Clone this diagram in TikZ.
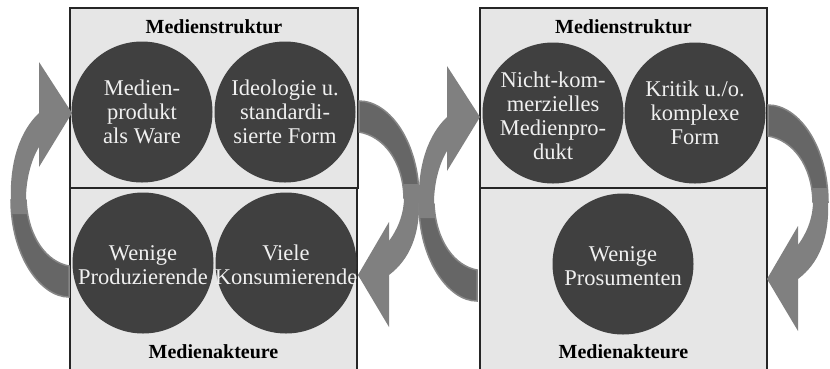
\documentclass[tikz,border=0pt]{standalone}
\usepackage{fontspec}
\setmainfont{Liberation Serif}
\definecolor{boxfill}{HTML}{E6E6E6}
\definecolor{circfill}{HTML}{404040}
\definecolor{arrlight}{HTML}{808080}
\definecolor{arrdark}{HTML}{666666}
\definecolor{arredge}{HTML}{868686}
\begin{document}
\begin{tikzpicture}[x=1pt,y=-1pt,
  panel/.style={rectangle, draw=black!85, line width=1.2pt, fill=boxfill, inner sep=0pt},
  circ/.style={circle, fill=circfill, minimum size=141pt, inner sep=0pt},
  ctext/.style={text=white!94!black, align=center, font=\fontsize{22.5}{24}\selectfont, inner sep=0pt},
  ttl/.style={font=\bfseries\fontsize{20}{22}\selectfont, inner sep=0pt, anchor=base},
  arrlt/.style={fill=arrlight},
  arrdk/.style={fill=arrdark, draw=arredge, line width=1.5pt},
  lshape/.pic={
    \path[arrdk] (11,200) .. controls (11,255) and (40,297) .. (69,297) -- (69,266)
      .. controls (47,262) and (28,238) .. (26,200) -- cycle;
    \path[arrlt] (11.8,214) -- (11,203) .. controls (9,160) and (21,130) .. (39,113) -- (39,62) -- (72,113)
      -- (39,167) -- (39,147) .. controls (31,160) and (26,180) .. (26,199) -- (27,214) -- cycle;
  },
  rshape/.pic={
    \path[arrdk] (419,198) .. controls (419,143) and (390,101) .. (359,101) -- (359,132)
      .. controls (383,136) and (403,160) .. (404,198) -- cycle;
    \path[arrlt] (418.7,184) -- (419,195) .. controls (421,235) and (409,260) .. (389,275) -- (389,327)
      -- (358,275) -- (389,222) -- (389,241) .. controls (397,230) and (404,215) .. (404,197) -- (403.5,184) -- cycle;
  }
]
\useasboundingbox (0,0) rectangle (830,368);
\clip (0,0) rectangle (830,368);
\fill[white] (0,0) rectangle (830,368);

% panels
\node[panel, minimum width=288pt, minimum height=180pt] (ls) at (214,98) {};
\node[panel, minimum width=287pt, minimum height=190pt] (la) at (213.5,283) {};
\node[panel, minimum width=287pt, minimum height=180pt] (rs) at (623.5,98) {};
\node[panel, minimum width=287pt, minimum height=190pt] (ra) at (623.5,283) {};

% arrows
\pic at (0,0) {lshape};
\pic at (0,0) {rshape};
\pic at (408,4) {lshape};
\pic at (409,4) {rshape};

% circles
\node[circ] (c1) at (142,112) {};
\node[circ] (c2) at (285,112) {};
\node[circ] (c3) at (143,263) {};
\node[circ] (c4) at (286,263) {};
\node[circ] (c5) at (553,113) {};
\node[circ] (c6) at (695,113) {};
\node[circ] (c7) at (623,264) {};

% circle texts
\node[ctext] (t1) at (c1) {Medien-\\produkt\\als Ware};
\node[ctext] (t2) at (c2) {Ideologie u.\\standardi-\\sierte Form};
\node[ctext] (t3) at ([yshift=-2]c3) {Wenige\\Produzierende};
\node[ctext] (t4) at ([yshift=-2]c4) {Viele\\Konsumierende};
\node[ctext] (t5) at ([yshift=-3]c5) {Nicht-kom-\\merzielles\\Medienpro-\\dukt};
\node[ctext] (t6) at (c6) {Kritik u./o.\\komplexe\\Form};
\node[ctext] (t7) at ([yshift=-2]c7) {Wenige\\Prosumenten};

% titles
\node[ttl] (h1) at (214,33) {Medienstruktur};
\node[ttl] (h2) at (213.5,358) {Medienakteure};
\node[ttl] (h3) at (623.5,33) {Medienstruktur};
\node[ttl] (h4) at (623.5,358) {Medienakteure};
\end{tikzpicture}
\end{document}
